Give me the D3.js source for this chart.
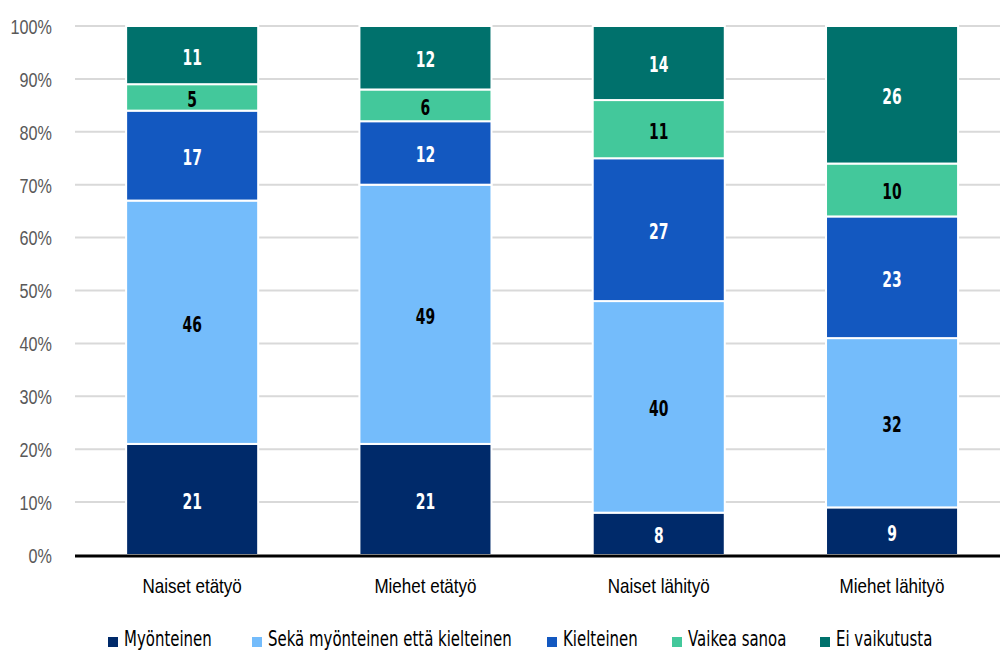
<!DOCTYPE html>
<html>
<head>
<meta charset="utf-8">
<script src="https://cdn.jsdelivr.net/npm/d3@7/dist/d3.min.js"></script>
<style>
  html, body { margin: 0; padding: 0; background: #fff; }
  svg { display: block; font-family: "DejaVu Sans", sans-serif; }
</style>
</head>
<body>
<svg id="chart" width="1000" height="651"></svg>
<script>
// Categories and series (percent shares, each bar sums to 100)
const categories = ["Naiset etätyö", "Miehet etätyö", "Naiset lähityö", "Miehet lähityö"];
const seriesNames = ["Myönteinen", "Sekä myönteinen että kielteinen", "Kielteinen", "Vaikea sanoa", "Ei vaikutusta"];
const myonteinen   = [21, 21, 8, 9];
const molemmat     = [46, 49, 40, 32];
const kielteinen   = [17, 12, 27, 23];
const vaikeaSanoa  = [5, 6, 11, 10];
const eiVaikutusta = [11, 12, 14, 26];
const yTicks = [0, 10, 20, 30, 40, 50, 60, 70, 80, 90, 100];

const colors = ["#002a6a", "#74bcfb", "#1358c0", "#43c89b", "#00716c"];
const labelColors = ["#fff", "#000", "#fff", "#000", "#fff"];

const FS = 20.5;          // font size
// horizontal condensing factors, giving a narrow typeface look
const SX_TICK = 0.79, SX_CAT = 0.83, SX_VAL = 0.68, SX_LEG = 0.73;

const seriesValues = [myonteinen, molemmat, kielteinen, vaikeaSanoa, eiVaikutusta];
const rows = categories.map((c, i) => {
  const r = { category: c };
  seriesNames.forEach((s, j) => r[s] = seriesValues[j][i]);
  return r;
});
const stacked = d3.stack().keys(seriesNames)(rows);

const svg = d3.select("#chart");
const margin = { left: 75.5, right: -8.7, top: 26, bottom: 96 };
const W = 1000, H = 651;

const x = d3.scaleBand()
  .domain(categories)
  .range([margin.left, W - margin.right])
  .paddingInner(0.434)
  .paddingOuter(0.217);

const y = d3.scaleLinear()
  .domain([0, 100])
  .range([H - margin.bottom, margin.top]);

// Horizontal gridlines
svg.append("g")
  .selectAll("line")
  .data(yTicks.filter(t => t > 0))
  .join("line")
  .attr("x1", 75).attr("x2", W)
  .attr("y1", d => y(d)).attr("y2", d => y(d))
  .attr("stroke", "#d9d9d9")
  .attr("stroke-width", 2);

// Y axis labels
const yAxis = d3.axisLeft(y).tickValues(yTicks).tickFormat(d => d + "%").tickSize(0).tickPadding(0);
const yg = svg.append("g").attr("transform", "translate(52,0)").call(yAxis);
yg.select(".domain").remove();
yg.selectAll("text")
  .attr("x", 0)
  .attr("fill", "#595959")
  .attr("transform", `scale(${SX_TICK},1)`)
  .style("font-size", FS + "px")
  .attr("dy", "0.36em");

// Stacked bars
const layers = svg.append("g")
  .selectAll("g")
  .data(stacked)
  .join("g")
  .attr("fill", (d, i) => colors[i]);

layers.selectAll("rect")
  .data(d => d)
  .join("rect")
  .attr("x", d => x(d.data.category))
  .attr("width", x.bandwidth())
  .attr("y", d => y(d[1]))
  .attr("height", d => y(d[0]) - y(d[1]))
  .attr("stroke", "#fff")
  .attr("stroke-width", 2);

// Value labels
svg.append("g")
  .selectAll("g")
  .data(stacked)
  .join("g")
  .each(function (layer, i) {
    d3.select(this).selectAll("text")
      .data(layer)
      .join("text")
      .attr("transform", d => `translate(${x(d.data.category) + x.bandwidth() / 2},${y((d[0] + d[1]) / 2)}) scale(${SX_VAL},1)`)
      .attr("dy", "0.46em")
      .attr("text-anchor", "middle")
      .attr("fill", labelColors[i])
      .style("font-size", FS + "px")
      .style("font-weight", "bold")
      .text(d => d[1] - d[0]);
  });

// Baseline
svg.append("line")
  .attr("x1", 75).attr("x2", W)
  .attr("y1", y(0) + 1).attr("y2", y(0) + 1)
  .attr("stroke", "#000")
  .attr("stroke-width", 3);

// Category labels
const xAxis = d3.axisBottom(x).tickSize(0).tickPadding(0);
const xg = svg.append("g").attr("transform", `translate(0,${y(0) + 38})`).call(xAxis);
xg.select(".domain").remove();
xg.selectAll("text")
  .attr("fill", "#000")
  .attr("y", 0)
  .attr("dy", "0")
  .attr("transform", `scale(${SX_CAT},1)`)
  .style("font-size", FS + "px");

// Legend
const legendX = [108, 252, 547, 672, 820];
const legend = svg.append("g")
  .selectAll("g")
  .data(seriesNames)
  .join("g")
  .attr("transform", (d, i) => `translate(${legendX[i]},646)`);
legend.append("rect")
  .attr("x", 0).attr("y", -9)
  .attr("width", 10).attr("height", 10)
  .attr("fill", (d, i) => colors[i]);
legend.append("text")
  .attr("transform", `translate(16,0) scale(${SX_LEG},1)`)
  .attr("fill", "#000")
  .style("font-size", FS + "px")
  .text(d => d);
</script>
</body>
</html>
